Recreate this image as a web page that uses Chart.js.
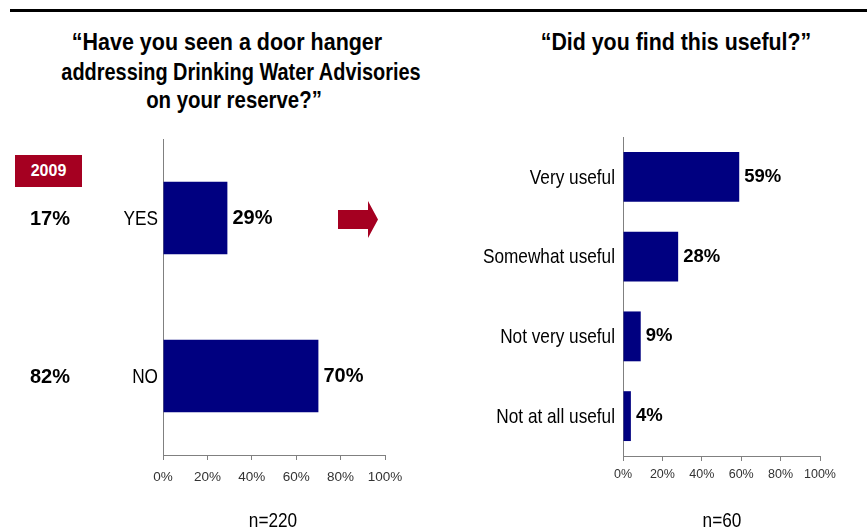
<!DOCTYPE html>
<html>
<head>
<meta charset="utf-8">
<script src="https://cdn.jsdelivr.net/npm/chart.js@4.4.1/dist/chart.umd.min.js"></script>
<style>
  body { margin: 0; width: 867px; height: 531px; overflow: hidden; background: #fff; position: relative; font-family: 'Liberation Sans', Arial, sans-serif; }
  .rule { position: absolute; left: 10px; right: 0; top: 9px; height: 3px; background: #000; }
  /* condensed look: Arial Narrow is not around, so squeeze Liberation Sans */
  .title { position: absolute; width: 460px; text-align: center; font: bold 24px 'Liberation Sans', Arial, sans-serif; line-height: 28px; color: #000; white-space: nowrap; transform-origin: 50% 50%; }
  .note { position: absolute; width: 200px; text-align: center; font: 21px 'Liberation Sans', Arial, sans-serif; line-height: 24px; color: #000; transform: scaleX(0.82); transform-origin: 50% 50%; }
  .year { position: absolute; left: 15px; top: 155px; width: 67px; height: 32px; background: #a50021; color: #fff; font: bold 16px 'Liberation Sans', Arial, sans-serif; line-height: 32px; text-align: center; }
  canvas { position: absolute; top: 0; }
  #seen-chart { left: 0; }
  #useful-chart { left: 430px; }
  svg { position: absolute; left: 0; top: 0; }
</style>
</head>
<body>
<div class="rule"></div>

<div class="title" style="left:-3px;top:28px;transform:scaleX(0.895)">“Have you seen a door hanger</div>
<div class="title" style="left:11px;top:58px;transform:scaleX(0.83)">addressing Drinking Water Advisories</div>
<div class="title" style="left:4px;top:86px;transform:scaleX(0.85)">on your reserve?”</div>
<div class="title" style="left:446px;top:28px;transform:scaleX(0.89)">“Did you find this useful?”</div>

<div class="year">2009</div>

<canvas id="seen-chart" width="430" height="531"></canvas>
<canvas id="useful-chart" width="437" height="531"></canvas>

<svg width="867" height="531">
  <polygon points="338,210 368,210 368,201 378,219.5 368,238 368,229 338,229" fill="#a50021"/>
</svg>

<div class="note" style="left:173px;top:508px">n=220</div>
<div class="note" style="left:622px;top:508px">n=60</div>

<script>
const seenLabels = ['YES', 'NO'];
const seenValues = [29, 70];
const seen2009 = [17, 82];

const usefulLabels = ['Very useful', 'Somewhat useful', 'Not very useful', 'Not at all useful'];
const usefulValues = [59, 28, 9, 4];

const fontFamily = "'Liberation Sans', Arial, sans-serif";
const barColor = '#000080';
const axisColor = '#808080';

Chart.defaults.font.family = fontFamily;

// category names (squeezed), percent labels next to each bar,
// plus the 2009 column on the left chart
const valueLabels = {
    id: 'valueLabels',
    afterDatasetsDraw(chart, args, opts) {
        let ctx = chart.ctx;
        let meta = chart.getDatasetMeta(0);
        let yScale = chart.scales.y;
        ctx.save();
        ctx.fillStyle = '#000';
        ctx.textBaseline = 'middle';

        ctx.font = '21px ' + fontFamily;
        ctx.textAlign = 'right';
        chart.data.labels.forEach((label, i) => {
            ctx.save();
            ctx.translate(chart.chartArea.left - opts.labelGap, yScale.getPixelForValue(i) + 1);
            ctx.scale(0.82, 1);
            ctx.fillText(label, 0, 0);
            ctx.restore();
        });

        ctx.font = 'bold ' + opts.size + 'px ' + fontFamily;
        ctx.textAlign = 'left';
        meta.data.forEach((bar, i) => {
            ctx.fillText(chart.data.datasets[0].data[i] + '%', bar.x + 5, bar.y);
        });
        if (opts.previous) {
            ctx.textAlign = 'center';
            opts.previous.forEach((v, i) => {
                ctx.fillText(v + '%', 50, yScale.getPixelForValue(i) + 1);
            });
        }
        ctx.restore();
    }
};

function renderChart(id, labels, values, o) {
    return new Chart(document.getElementById(id), {
        type: 'bar',
        data: {
            labels: labels,
            datasets: [{
                data: values,
                backgroundColor: barColor,
                barPercentage: o.barPercentage,
                categoryPercentage: 1
            }]
        },
        options: {
            indexAxis: 'y',
            responsive: false,
            animation: false,
            layout: { padding: o.padding },
            plugins: {
                legend: { display: false },
                tooltip: { enabled: false },
                valueLabels: { size: o.valueSize, previous: o.previous, labelGap: o.labelGap }
            },
            scales: {
                x: {
                    min: 0,
                    max: 100,
                    ticks: {
                        stepSize: 20,
                        callback: v => v + '%',
                        color: '#333',
                        font: { size: o.tickSize },
                        padding: o.tickPadding,
                        maxRotation: 0
                    },
                    grid: { drawOnChartArea: false, tickLength: 5, color: axisColor },
                    border: { color: axisColor },
                    afterFit: s => { s.height = 40; }
                },
                y: {
                    grid: { display: false, drawTicks: false },
                    border: { color: axisColor },
                    ticks: { display: false },
                    afterFit: s => { s.width = o.axisWidth; }
                }
            }
        },
        plugins: [valueLabels]
    });
}

renderChart('seen-chart', seenLabels, seenValues, {
    barPercentage: 0.46,
    padding: { top: 139, right: 45, bottom: 36, left: 0 },
    axisWidth: 163,
    tickSize: 13.5,
    tickPadding: 9,
    valueSize: 20,
    labelGap: 5,
    previous: seen2009
});

renderChart('useful-chart', usefulLabels, usefulValues, {
    barPercentage: 0.625,
    padding: { top: 137, right: 47, bottom: 35, left: 0 },
    axisWidth: 193,
    tickSize: 12.5,
    tickPadding: 6,
    valueSize: 18.5,
    labelGap: 8
});
</script>
</body>
</html>
